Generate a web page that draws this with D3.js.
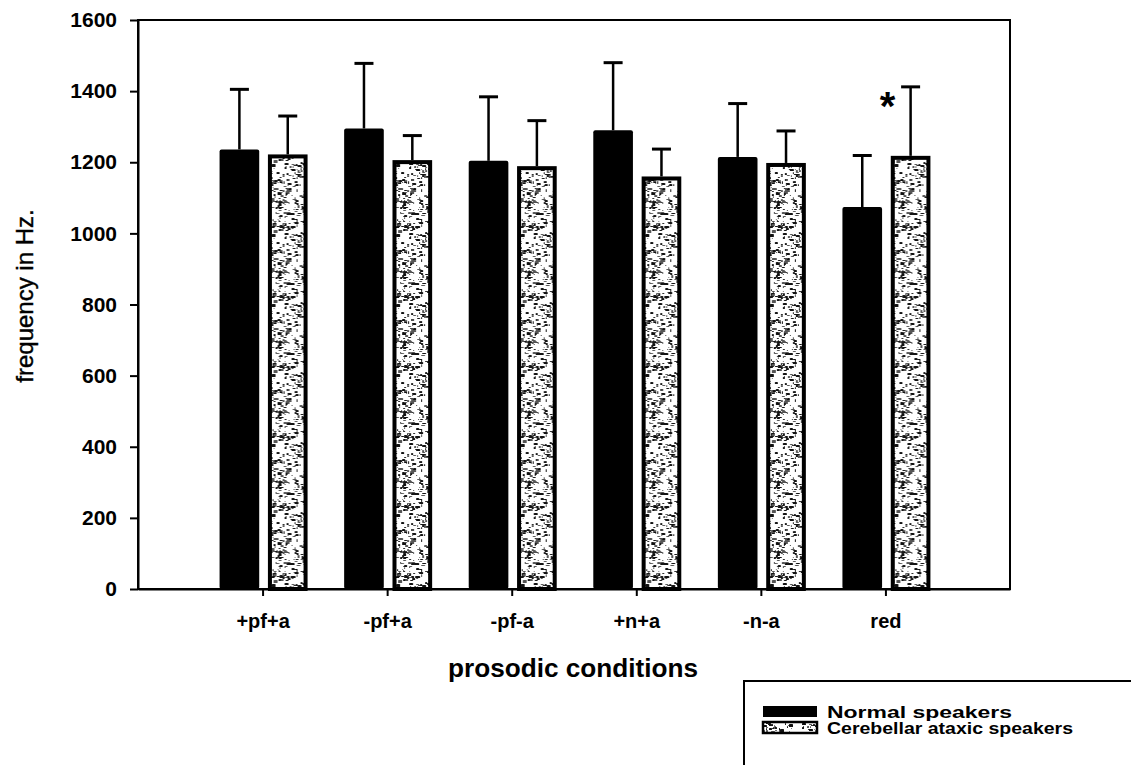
<!DOCTYPE html>
<html>
<head>
<meta charset="utf-8">
<script src="https://cdn.jsdelivr.net/npm/d3@7"></script>
<style>
  html, body { margin: 0; padding: 0; background: #fff; }
  svg { display: block; }
  text { font-family: "Liberation Sans", Arial, sans-serif; fill: #000; }
</style>
</head>
<body>
<svg id="chart" width="1131" height="765"></svg>
<script>
// Mean F0 per prosodic condition with standard deviations
const categories = ["+pf+a", "-pf+a", "-pf-a", "+n+a", "-n-a", "red"];
const normalMean = [1236, 1295, 1204, 1290, 1215, 1074];
const normalSD   = [169, 183, 180, 190, 150, 145];
const ataxicMean = [1222, 1206, 1189, 1160, 1198, 1218];
const ataxicSD   = [108, 69, 128, 77, 90, 194];
const seriesNames = ["Normal speakers", "Cerebellar ataxic speakers"];
const yTicks = [0, 200, 400, 600, 800, 1000, 1200, 1400, 1600];
const significant = ["red"];   // conditions marked with an asterisk

const svg = d3.select("#chart");
const plot = { left: 138, right: 1010, top: 20, bottom: 589 };

const x = d3.scalePoint().domain(categories).range([plot.left, plot.right]).padding(1);
const sub = d3.scaleBand().domain(["normal", "ataxic"]).range([-43, 45]).paddingInner(0.18);
const y = d3.scaleLinear().domain([0, 1600]).range([plot.bottom, plot.top]);

// Speckled fill for the ataxic group (deterministic noise texture)
const defs = svg.append("defs");
const pat = defs.append("pattern")
  .attr("id", "speckle").attr("patternUnits", "userSpaceOnUse")
  .attr("width", 52).attr("height", 70);
pat.append("rect").attr("width", 52).attr("height", 70).attr("fill", "#fff");
let seed = 11;
const rnd = () => { seed = (seed * 16807) % 2147483647; return (seed - 1) / 2147483646; };
for (let i = 0; i < 330; i++) {
  const w = 1 + Math.floor(rnd() * 3.5), h = 1 + Math.floor(rnd() * 2.2);
  pat.append("rect")
    .attr("x", Math.floor(rnd() * 52)).attr("y", Math.floor(rnd() * 70))
    .attr("width", w).attr("height", h).attr("rx", 0.6)
    .attr("fill", rnd() < 0.65 ? "#111" : "#555");
}

// Frame
svg.append("rect")
  .attr("x", plot.left).attr("y", plot.top)
  .attr("width", plot.right - plot.left).attr("height", plot.bottom - plot.top)
  .attr("fill", "none").attr("stroke", "#000").attr("stroke-width", 2);

// Y axis
const yAxis = svg.append("g")
  .attr("transform", `translate(${plot.left},0)`)
  .call(d3.axisLeft(y).tickValues(yTicks).tickFormat(d3.format("d"))
    .tickSize(8).tickSizeOuter(0).tickPadding(13));
yAxis.select(".domain").attr("stroke-width", 2);
yAxis.selectAll(".tick line").attr("stroke-width", 2);
yAxis.selectAll(".tick text")
  .attr("font-family", "Liberation Sans, Arial, sans-serif")
  .attr("font-size", 21).attr("font-weight", "bold");

// X axis
const xAxis = svg.append("g")
  .attr("transform", `translate(0,${plot.bottom})`)
  .call(d3.axisBottom(x).tickSize(7).tickSizeOuter(0));
xAxis.select(".domain").attr("stroke-width", 2);
xAxis.selectAll(".tick line").attr("stroke-width", 2);
xAxis.selectAll(".tick text")
  .attr("font-family", "Liberation Sans, Arial, sans-serif")
  .attr("font-size", 20).attr("font-weight", "bold")
  .attr("y", 39).attr("dy", 0);

const groups = svg.append("g").selectAll("g")
  .data(categories.map((c, i) => ({
    c,
    normal: { m: normalMean[i], sd: normalSD[i] },
    ataxic: { m: ataxicMean[i], sd: ataxicSD[i] }
  })))
  .join("g")
  .attr("transform", d => `translate(${x(d.c)},0)`);

// Error bars (upper whisker only)
function whisker(g, key) {
  const cx = sub(key) + sub.bandwidth() / 2;
  g.append("line")
    .attr("x1", cx).attr("x2", cx)
    .attr("y1", d => y(d[key].m)).attr("y2", d => y(d[key].m + d[key].sd))
    .attr("stroke", "#000").attr("stroke-width", 2.5);
  g.append("line")
    .attr("x1", cx - 9.5).attr("x2", cx + 9.5)
    .attr("y1", d => y(d[key].m + d[key].sd)).attr("y2", d => y(d[key].m + d[key].sd))
    .attr("stroke", "#000").attr("stroke-width", 3);
}
whisker(groups, "normal");
whisker(groups, "ataxic");

// Normal speakers: solid black bars
groups.append("rect")
  .attr("x", sub("normal")).attr("width", sub.bandwidth())
  .attr("y", d => y(d.normal.m)).attr("height", d => y(0) - y(d.normal.m))
  .attr("rx", 2).attr("fill", "#000");

// Ataxic speakers: speckled bars with heavy outline
groups.append("rect")
  .attr("x", sub("ataxic") + 2).attr("width", sub.bandwidth() - 4)
  .attr("y", d => y(d.ataxic.m) + 2).attr("height", d => y(0) - y(d.ataxic.m) - 2)
  .attr("fill", "url(#speckle)").attr("stroke", "#000").attr("stroke-width", 4);

// Significance marker
groups.filter(d => significant.includes(d.c))
  .append("text")
  .attr("x", 2).attr("y", d => y(d.ataxic.m + d.ataxic.sd) + 33)
  .attr("text-anchor", "middle").attr("font-size", 40).attr("font-weight", "bold")
  .text("*");

// Axis titles
svg.append("text")
  .attr("transform", "translate(33,296) rotate(-90)")
  .attr("text-anchor", "middle").attr("font-size", 24)
  .attr("stroke", "#000").attr("stroke-width", 0.4)
  .text("frequency in Hz.");
svg.append("text")
  .attr("x", 573).attr("y", 677)
  .attr("text-anchor", "middle").attr("font-size", 25).attr("font-weight", "bold")
  .attr("textLength", 250).attr("lengthAdjust", "spacingAndGlyphs")
  .text("prosodic conditions");

// Legend
const legend = svg.append("g");
legend.append("rect")
  .attr("x", 744).attr("y", 681).attr("width", 420).attr("height", 120)
  .attr("fill", "#fff").attr("stroke", "#000").attr("stroke-width", 2);
const legendRows = [
  { name: seriesNames[0], fill: "#000", stroke: "none", y: 706, len: 185 },
  { name: seriesNames[1], fill: "url(#speckle)", stroke: "#000", y: 722, len: 246 }
];
legendRows.forEach(r => {
  legend.append("rect")
    .attr("x", 763).attr("y", r.y).attr("width", 54).attr("height", 11)
    .attr("fill", r.fill).attr("stroke", r.stroke).attr("stroke-width", 2.5);
  legend.append("text")
    .attr("x", 827).attr("y", r.y + 12)
    .attr("font-size", 16.5).attr("font-weight", "bold")
    .attr("textLength", r.len).attr("lengthAdjust", "spacingAndGlyphs")
    .text(r.name);
});
</script>
</body>
</html>
